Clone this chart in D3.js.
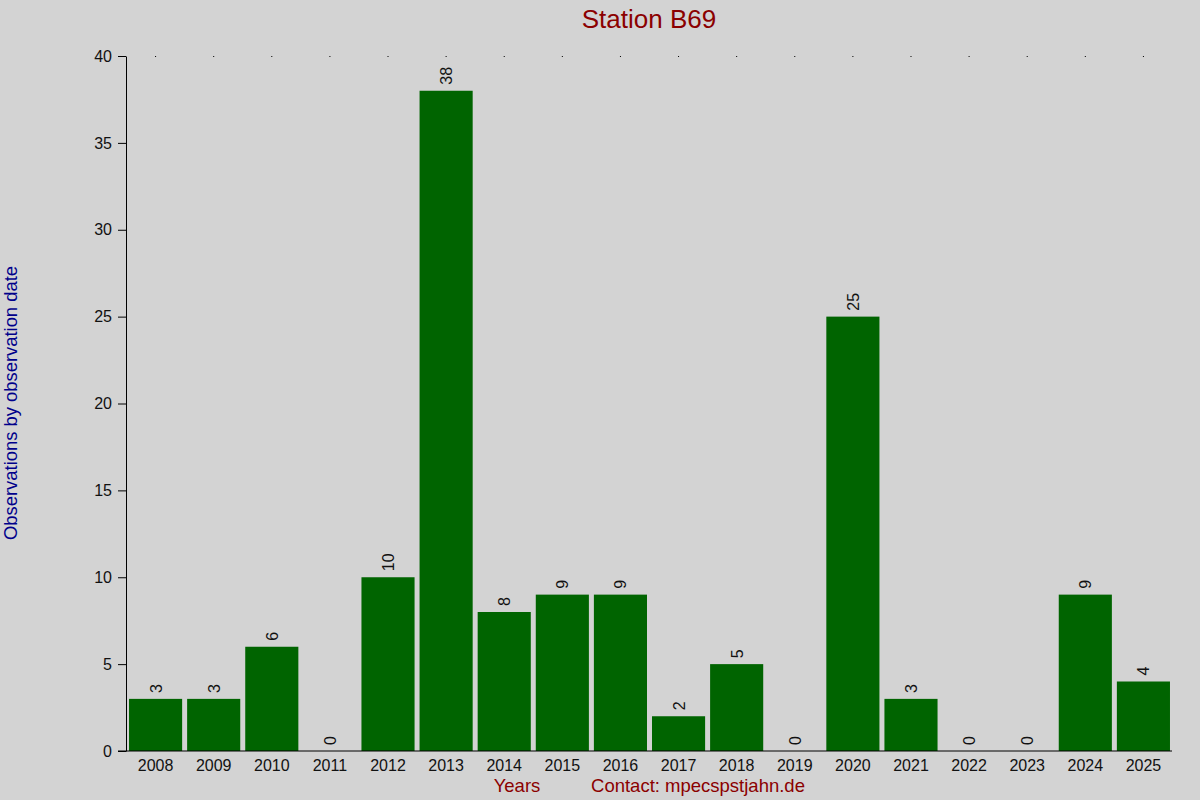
<!DOCTYPE html>
<html>
<head>
    <script src="https://cdnjs.cloudflare.com/ajax/libs/d3/7.8.5/d3.min.js"></script>
    <style>
        body { margin: 0; background: #d3d3d3; }
        text { font-family: "Liberation Sans", Arial, sans-serif; }
    </style>
</head>
<body>
    <div id="chart"></div>
    <script>
        const years = ["2008", "2009", "2010", "2011", "2012", "2013", "2014", "2015", "2016",
                       "2017", "2018", "2019", "2020", "2021", "2022", "2023", "2024", "2025"];
        const counts = [3, 3, 6, 0, 10, 38, 8, 9, 9, 2, 5, 0, 25, 3, 0, 0, 9, 4];
        const yTicks = [0, 5, 10, 15, 20, 25, 30, 35, 40];

        const width = 1200;
        const height = 800;
        const margin = { top: 56, right: 27, bottom: 49, left: 126 };

        const svg = d3.select("#chart")
            .append("svg")
            .attr("width", width)
            .attr("height", height);

        svg.append("rect")
            .attr("width", width)
            .attr("height", height)
            .attr("fill", "#d3d3d3");

        const x = d3.scaleBand()
            .domain(years)
            .range([margin.left, width - margin.right])
            .paddingInner(0.086)
            .paddingOuter(0.052);

        const y = d3.scaleLinear()
            .domain([0, 40])
            .range([height - margin.bottom, margin.top]);

        // Bars
        svg.selectAll(".bar")
            .data(counts)
            .join("rect")
            .attr("class", "bar")
            .attr("x", (d, i) => x(years[i]))
            .attr("y", d => y(d))
            .attr("width", x.bandwidth())
            .attr("height", d => y(0) - y(d))
            .attr("fill", "#006400");

        // Value labels (rotated)
        svg.selectAll(".val")
            .data(counts)
            .join("text")
            .attr("class", "val")
            .attr("transform", (d, i) =>
                `translate(${x(years[i]) + x.bandwidth() / 2 + 6},${y(d) - 6}) rotate(-90)`)
            .attr("font-size", "16px")
            .attr("fill", "#111")
            .text(d => d);

        // Y axis
        const yAxis = svg.append("g")
            .attr("transform", `translate(${margin.left},0)`)
            .call(d3.axisLeft(y).tickValues(yTicks).tickSize(8).tickPadding(6).tickSizeOuter(0));
        yAxis.selectAll("text").attr("font-size", "16px").attr("fill", "#111")
            .style("font-family", "'Liberation Sans', Arial, sans-serif");
        yAxis.selectAll("line, path").attr("stroke", "#000");

        // X axis line
        svg.append("line")
            .attr("x1", margin.left - 8)
            .attr("x2", width - 28)
            .attr("y1", y(0))
            .attr("y2", y(0))
            .attr("stroke", "#000");

        // X tick labels
        svg.selectAll(".xlab")
            .data(years)
            .join("text")
            .attr("class", "xlab")
            .attr("x", d => x(d) + x.bandwidth() / 2)
            .attr("y", y(0) + 20)
            .attr("text-anchor", "middle")
            .attr("font-size", "16px")
            .attr("fill", "#111")
            .text(d => d);

        // Small dots at the top
        svg.selectAll(".dot")
            .data(years)
            .join("rect")
            .attr("class", "dot")
            .attr("x", d => x(d) + x.bandwidth() / 2 - 0.5)
            .attr("y", y(40))
            .attr("width", 1)
            .attr("height", 1)
            .attr("fill", "#000");

        // Title
        svg.append("text")
            .attr("x", 649)
            .attr("y", 28)
            .attr("text-anchor", "middle")
            .attr("font-size", "26px")
            .attr("fill", "#8b0000")
            .text("Station B69");

        // Y label
        svg.append("text")
            .attr("transform", `translate(17,403) rotate(-90)`)
            .attr("text-anchor", "middle")
            .attr("font-size", "18.4px")
            .attr("fill", "#00008b")
            .text("Observations by observation date");

        // X labels
        svg.append("text")
            .attr("x", 517)
            .attr("y", 792)
            .attr("text-anchor", "middle")
            .attr("font-size", "18.5px")
            .attr("fill", "#8b0000")
            .text("Years");

        svg.append("text")
            .attr("x", 698)
            .attr("y", 792)
            .attr("text-anchor", "middle")
            .attr("font-size", "18.5px")
            .attr("fill", "#8b0000")
            .text("Contact: mpecspstjahn.de");
    </script>
</body>
</html>
